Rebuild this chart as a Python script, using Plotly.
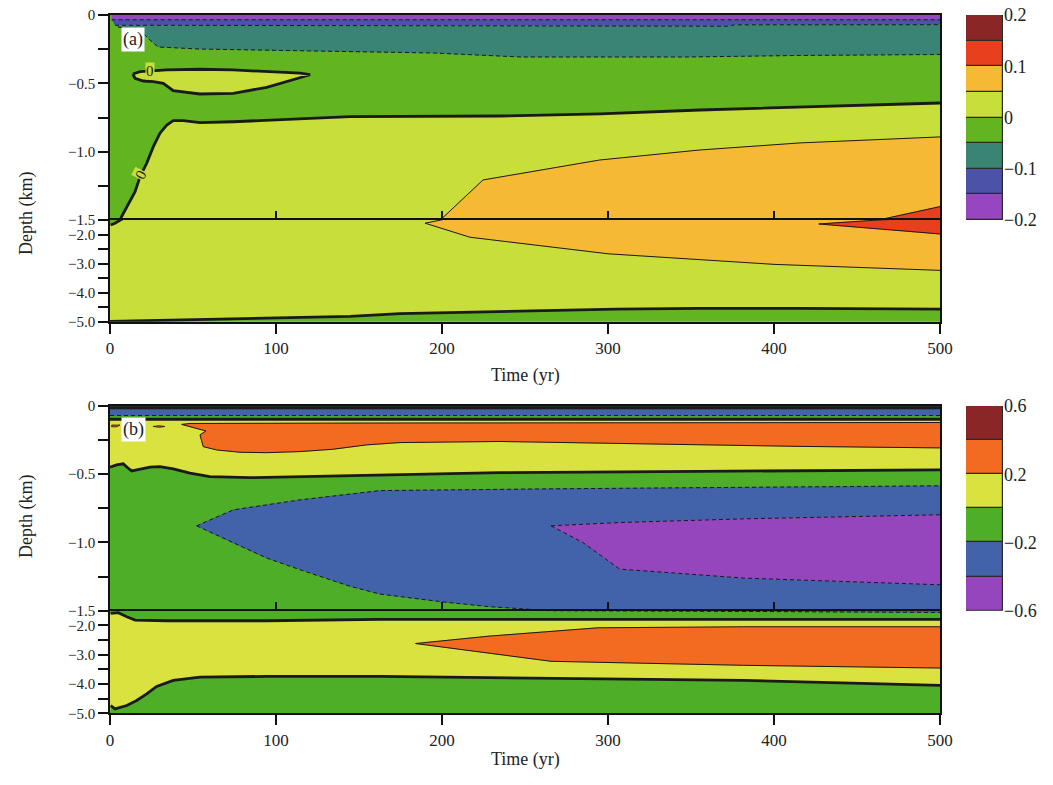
import plotly.graph_objects as go

# ---------------- shared axis data ----------------
T_RANGE = [0, 500]
X_TICKS = [0, 100, 200, 300, 400, 500]
X_TEXT = ["0", "100", "200", "300", "400", "500"]
UP_TICKS = [0, -0.25, -0.5, -0.75, -1.0, -1.25, -1.5]
UP_TEXT = ["0", "", "−0.5", "", "−1.0", "", "−1.5"]
LO_TICKS = [-2.0, -2.5, -3.0, -3.5, -4.0, -4.5, -5.0]
LO_TEXT = ["−2.0", "", "−3.0", "", "−4.0", "", "−5.0"]
D_UPPER = [-1.5, 0]
D_LOWER = [-5.0, -1.5]

# ---------------- panel (a) ----------------
A_LEVELS = [-0.2, -0.15, -0.1, -0.05, 0, 0.05, 0.1, 0.15, 0.2]
A_COLORS = ["#9646BE", "#4B52A8", "#3A8474", "#62B521", "#C8DE3A", "#F5B933", "#E8401F", "#8B2626"]
A_CB_TICKS = [-0.2, -0.1, 0, 0.1, 0.2]
A_CB_TEXT = ["−0.2", "−0.1", "0", "0.1", "0.2"]

A_ZERO_T = [0.4, 3.0, 7.0, 11.0, 15.1, 18.1, 22.1, 26.1, 30.1, 34.2, 38.1, 44.2, 54.2, 74.1, 144.6, 234.9, 295.2, 355.4, 415.7, 500]
A_ZERO_D = [-1.67, -1.614, -1.475, -1.39, -1.293, -1.183, -1.085, -0.963, -0.865, -0.805, -0.773, -0.773, -0.788, -0.781, -0.744, -0.739, -0.724, -0.695, -0.673, -0.644]
A_LOOP_T = [13.7, 18.1, 34.2, 54.2, 74.1, 94.4, 114.5, 120.5, 110.2, 94.4, 74.3, 54.2, 38.1, 32.1, 26.1, 20.1, 15.1, 13.7]
A_LOOP_D = [-0.432, -0.415, -0.402, -0.397, -0.402, -0.415, -0.426, -0.437, -0.475, -0.529, -0.573, -0.578, -0.554, -0.5, -0.488, -0.483, -0.463, -0.432]
A_LABEL_T = [24.1, 18.5]
A_LABEL_D = [-0.41, -1.17]
A_LABEL_ANGLE = [0, -62]
A_PURP_T = [1, 500]
A_PURP_D = [-0.035, -0.035]
A_BLUE_T = [3, 372, 376, 500]
A_BLUE_D = [-0.075, -0.082, -0.072, -0.071]
A_TEAL_T = [4.8, 18, 24, 29, 54, 114, 195, 247, 349, 416, 500]
A_TEAL_D = [-0.088, -0.11, -0.183, -0.234, -0.249, -0.263, -0.278, -0.307, -0.307, -0.296, -0.289]
A_OR_UP_T = [189.8, 199, 224.7, 295, 355, 415.7, 500]
A_OR_UP_D = [-1.61, -1.5, -1.207, -1.061, -0.988, -0.936, -0.892]
A_OR_LO_T = [189.8, 216.9, 300, 400, 500]
A_OR_LO_D = [-1.61, -2.094, -2.663, -3.027, -3.233]
A_RED_UP_T = [427, 463, 500]
A_RED_UP_D = [-1.637, -1.5, -1.402]
A_RED_LO_T = [427, 500]
A_RED_LO_D = [-1.637, -1.98]
A_BOT_T = [0, 54, 144.6, 174.7, 235, 305, 355, 415.7, 500]
A_BOT_D = [-4.99, -4.93, -4.82, -4.72, -4.65, -4.57, -4.54, -4.54, -4.57]

# ---------------- panel (b) ----------------
B_LEVELS = [-0.6, -0.4, -0.2, 0, 0.2, 0.4, 0.6]
B_COLORS = ["#9646BC", "#4262AA", "#4EAE27", "#DAE23F", "#F26B21", "#8B2626"]
B_CB_TICKS = [-0.6, -0.2, 0.2, 0.6]
B_CB_TEXT = ["−0.6", "−0.2", "0.2", "0.6"]

B_TOP_T = [0, 500]
B_TOP_EDGE_D = [-0.012, -0.012]
B_TOP_BLUE_D = [-0.07, -0.07]
B_TOP_ZERO_D = [-0.097, -0.097]
B_OR_UP_T = [43.2, 48.2, 150, 300, 500]
B_OR_UP_D = [-0.135, -0.128, -0.125, -0.122, -0.121]
B_OR_LO_T = [43.2, 57.8, 54.2, 56.2, 64.3, 78.3, 94.4, 114.5, 134.3, 154.6, 174.7, 234.9, 325.3, 415.7, 500]
B_OR_LO_D = [-0.135, -0.183, -0.212, -0.298, -0.322, -0.339, -0.342, -0.334, -0.317, -0.285, -0.268, -0.260, -0.278, -0.296, -0.307]
B_BLOB1_T = [1, 6, 4, 1]
B_BLOB1_D = [-0.14, -0.14, -0.152, -0.152]
B_BLOB2_T = [26, 29.5, 33, 29.5]
B_BLOB2_D = [-0.15, -0.145, -0.15, -0.156]
B_ZERO_T = [0, 1.0, 4.0, 8.0, 11.0, 13.1, 16.1, 24.1, 30.1, 38.1, 48.2, 60.2, 84.3, 114.5, 154.6, 194.6, 234.9, 355.4, 500]
B_ZERO_D = [-0.446, -0.444, -0.432, -0.424, -0.456, -0.476, -0.468, -0.448, -0.444, -0.461, -0.492, -0.517, -0.525, -0.517, -0.505, -0.497, -0.488, -0.479, -0.468]
B_BLUE_UP_T = [52.2, 74.3, 114.5, 144.6, 162.7, 265.7, 381.7, 500]
B_BLUE_UP_D = [-0.878, -0.761, -0.688, -0.644, -0.620, -0.607, -0.595, -0.585]
B_BLUE_LO_T = [52.2, 74.3, 94.4, 114.5, 144.6, 162.7, 199.4, 228.3, 254.6, 265.7, 400, 500]
B_BLUE_LO_D = [-0.878, -1.004, -1.114, -1.2, -1.321, -1.378, -1.434, -1.47, -1.49, -1.5, -1.53, -1.56]
B_PU_UP_T = [265.7, 307, 381.7, 500]
B_PU_UP_D = [-0.878, -0.854, -0.827, -0.797]
B_PU_LO_T = [265.7, 285.3, 307, 381.7, 500]
B_PU_LO_D = [-0.878, -1.004, -1.195, -1.261, -1.31]
B_ZERO2_T = [0.4, 5, 10.1, 15.1, 34.2, 94.4, 162.7, 500]
B_ZERO2_D = [-1.59, -1.569, -1.706, -1.819, -1.843, -1.843, -1.795, -1.795]
B_OR2_UP_T = [184.1, 228.3, 294, 381.7, 500]
B_OR2_UP_D = [-2.62, -2.368, -2.083, -2.049, -2.049]
B_OR2_LO_T = [184.1, 265.7, 381.7, 500]
B_OR2_LO_D = [-2.62, -3.226, -3.363, -3.456]
B_BOT_T = [0.4, 3, 10.1, 16.1, 22.1, 28.1, 38.1, 54.2, 94.4, 162.7, 381.7, 425, 500]
B_BOT_D = [-4.736, -4.85, -4.736, -4.564, -4.335, -4.084, -3.878, -3.765, -3.741, -3.741, -3.878, -3.936, -4.05]

# ---------------- figure ----------------
W, H = 1053, 785
FONT = "Liberation Serif, Times New Roman, serif"
TXT = "#222222"
fig = go.Figure()


def px_x(p):
    return p / W


def px_y(p):
    return 1 - p / H


PANELS = {
    "a": (("x", "y"), ("x2", "y2")),
    "b": (("x3", "y3"), ("x4", "y4")),
}


def add_fill(panel, t, d, color):
    for xa, ya in PANELS[panel]:
        fig.add_trace(go.Scatter(x=t, y=d, xaxis=xa, yaxis=ya, mode="lines",
                                 fill="toself", fillcolor=color,
                                 line=dict(width=0.6, color=color),
                                 hoverinfo="skip", showlegend=False))


def add_line(panel, t, d, width=1.0, dash="solid", color="#1a1a1a"):
    for xa, ya in PANELS[panel]:
        fig.add_trace(go.Scatter(x=t, y=d, xaxis=xa, yaxis=ya, mode="lines",
                                 line=dict(width=width, color=color, dash=dash),
                                 hoverinfo="skip", showlegend=False))


def band(t_up, d_up, t_lo, d_lo):
    return list(t_up) + list(t_lo)[::-1], list(d_up) + list(d_lo)[::-1]


T0, T1 = T_RANGE
DASH = "4px,3px"

# ---- panel (a) fills ----
add_fill("a", [T0, T1, T1, T0], [0, 0, -5, -5], A_COLORS[4])
t, d = band([T0, T1], [0, 0], A_ZERO_T, A_ZERO_D)
add_fill("a", t + [T0], d + [A_ZERO_D[0]], A_COLORS[3])
t, d = band([A_PURP_T[0], T1], [0, 0], A_PURP_T, A_PURP_D)
add_fill("a", t, d, A_COLORS[0])
t, d = band(A_PURP_T, A_PURP_D, A_BLUE_T, A_BLUE_D)
add_fill("a", t, d, A_COLORS[1])
t, d = band(A_BLUE_T, A_BLUE_D, A_TEAL_T, A_TEAL_D)
add_fill("a", t, d, A_COLORS[2])
add_fill("a", A_LOOP_T, A_LOOP_D, A_COLORS[4])
t, d = band(A_OR_UP_T, A_OR_UP_D, A_OR_LO_T, A_OR_LO_D)
add_fill("a", t, d, A_COLORS[5])
t, d = band(A_RED_UP_T, A_RED_UP_D, A_RED_LO_T, A_RED_LO_D)
add_fill("a", t, d, A_COLORS[6])
t, d = list(A_BOT_T) + [T1, T0], list(A_BOT_D) + [-5, -5]
add_fill("a", t, d, A_COLORS[3])

# ---- panel (a) lines ----
add_line("a", A_PURP_T, A_PURP_D, 1, DASH)
add_line("a", A_BLUE_T, A_BLUE_D, 1, DASH)
add_line("a", A_TEAL_T, A_TEAL_D, 1, DASH)
add_line("a", A_ZERO_T, A_ZERO_D, 2.8)
add_line("a", A_LOOP_T, A_LOOP_D, 2.8)
add_line("a", A_OR_UP_T, A_OR_UP_D, 1)
add_line("a", A_OR_LO_T, A_OR_LO_D, 1)
add_line("a", A_RED_UP_T, A_RED_UP_D, 1)
add_line("a", A_RED_LO_T, A_RED_LO_D, 1)
add_line("a", A_BOT_T, A_BOT_D, 2.8)

# ---- panel (b) fills ----
add_fill("b", [T0, T1, T1, T0], [0, 0, -5, -5], B_COLORS[3])
t, d = band(B_ZERO_T, B_ZERO_D, B_ZERO2_T, B_ZERO2_D)
add_fill("b", t + [T0], d + [B_ZERO2_D[0]], B_COLORS[2])
t, d = band(B_TOP_T, [0, 0], B_TOP_T, B_TOP_ZERO_D)
add_fill("b", t, d, B_COLORS[2])
t, d = band(B_TOP_T, [0, 0], B_TOP_T, B_TOP_BLUE_D)
add_fill("b", t, d, B_COLORS[1])
t, d = band(B_OR_UP_T, B_OR_UP_D, B_OR_LO_T, B_OR_LO_D)
add_fill("b", t, d, B_COLORS[4])
add_fill("b", B_BLOB1_T, B_BLOB1_D, B_COLORS[4])
add_fill("b", B_BLOB2_T, B_BLOB2_D, B_COLORS[4])
t, d = band(B_BLUE_UP_T, B_BLUE_UP_D, B_BLUE_LO_T, B_BLUE_LO_D)
add_fill("b", t, d, B_COLORS[1])
t, d = band(B_PU_UP_T, B_PU_UP_D, B_PU_LO_T, B_PU_LO_D)
add_fill("b", t, d, B_COLORS[0])
t, d = band(B_OR2_UP_T, B_OR2_UP_D, B_OR2_LO_T, B_OR2_LO_D)
add_fill("b", t, d, B_COLORS[4])
t, d = list(B_BOT_T) + [T1, T0], list(B_BOT_D) + [-5, -5]
add_fill("b", t, d, B_COLORS[2])

# ---- panel (b) lines ----
add_line("b", B_TOP_T, B_TOP_EDGE_D, 3)
add_line("b", B_TOP_T, B_TOP_BLUE_D, 1, DASH)
add_line("b", B_TOP_T, B_TOP_ZERO_D, 2.8)
add_line("b", B_OR_UP_T, B_OR_UP_D, 1)
add_line("b", B_OR_LO_T, B_OR_LO_D, 1)
add_line("b", B_BLOB1_T + B_BLOB1_T[:1], B_BLOB1_D + B_BLOB1_D[:1], 0.8)
add_line("b", B_BLOB2_T + B_BLOB2_T[:1], B_BLOB2_D + B_BLOB2_D[:1], 0.8)
add_line("b", B_ZERO_T, B_ZERO_D, 2.8)
add_line("b", B_BLUE_UP_T, B_BLUE_UP_D, 1, DASH)
add_line("b", B_BLUE_LO_T, B_BLUE_LO_D, 1, DASH)
add_line("b", B_PU_UP_T, B_PU_UP_D, 1, DASH)
add_line("b", B_PU_LO_T, B_PU_LO_D, 1, DASH)
add_line("b", B_ZERO2_T, B_ZERO2_D, 2.8)
add_line("b", B_OR2_UP_T, B_OR2_UP_D, 1)
add_line("b", B_OR2_LO_T, B_OR2_LO_D, 1)
add_line("b", B_BOT_T, B_BOT_D, 2.8)


# ---- colour bars (stacked boxes) ----
def add_cbar(levels, colors, xa, ya):
    for i, c in enumerate(colors):
        fig.add_trace(go.Bar(x=[0], y=[levels[i + 1] - levels[i]], base=[levels[i]],
                             width=1, marker=dict(color=c, line=dict(color="#2a2a2a", width=1.2)),
                             xaxis=xa, yaxis=ya, hoverinfo="skip", showlegend=False))


add_cbar(A_LEVELS, A_COLORS, "x5", "y5")
add_cbar(B_LEVELS, B_COLORS, "x6", "y6")

# ---- axes ----
XD = [px_x(110), px_x(940)]
common = dict(showgrid=False, zeroline=False, showline=True, linecolor="#111111",
              linewidth=1.6, mirror=True, tickcolor="#111111", tickwidth=1.5,
              automargin=False)
xfont = dict(family=FONT, size=17, color=TXT)
yfont = dict(family=FONT, size=15, color=TXT)


def xup(anchor):
    return dict(domain=XD, range=T_RANGE, anchor=anchor, tickmode="array", tickvals=X_TICKS,
                ticks="inside", ticklen=9, showticklabels=False, tickfont=xfont, **common)


def xlo(anchor):
    return dict(domain=XD, range=T_RANGE, anchor=anchor, tickmode="array", tickvals=X_TICKS,
                ticktext=X_TEXT, ticks="outside", ticklen=10, tickfont=xfont, **common)


def yup(anchor, dom):
    return dict(domain=dom, range=D_UPPER, anchor=anchor, tickmode="array", tickvals=UP_TICKS,
                ticktext=UP_TEXT, ticks="outside", ticklen=10, tickfont=yfont, **common)


def ylo(anchor, dom):
    return dict(domain=dom, range=D_LOWER, anchor=anchor, tickmode="array", tickvals=LO_TICKS,
                ticktext=LO_TEXT, ticks="outside", ticklen=10, tickfont=yfont, **common)


A_UP = [px_y(220), px_y(15)]
A_LO = [px_y(321.7), px_y(220)]
B_UP = [px_y(610.7), px_y(406)]
B_LO = [px_y(713.3), px_y(610.7)]
CB_X = [px_x(966), px_x(1003)]


def cbx(anchor):
    return dict(domain=CB_X, range=[-0.5, 0.5], anchor=anchor, visible=False)


def cby(anchor, dom, levels, tv, tt):
    return dict(domain=dom, range=[levels[0], levels[-1]], anchor=anchor, side="right",
                showgrid=False, zeroline=False, showline=False, ticks="", tickmode="array",
                tickvals=tv, ticktext=tt, automargin=False,
                tickfont=dict(family=FONT, size=18, color=TXT))


fig.update_layout(
    width=W, height=H, autosize=False, margin=dict(l=0, r=0, t=0, b=0, pad=0, autoexpand=False),
    paper_bgcolor="white", plot_bgcolor="white", barmode="overlay", bargap=0,
    showlegend=False,
    xaxis=xup("y"), yaxis=yup("x", A_UP),
    xaxis2=xlo("y2"), yaxis2=ylo("x2", A_LO),
    xaxis3=xup("y3"), yaxis3=yup("x3", B_UP),
    xaxis4=xlo("y4"), yaxis4=ylo("x4", B_LO),
    xaxis5=cbx("y5"), yaxis5=cby("x5", A_UP, A_LEVELS, A_CB_TICKS, A_CB_TEXT),
    xaxis6=cbx("y6"), yaxis6=cby("x6", B_UP, B_LEVELS, B_CB_TICKS, B_CB_TEXT),
)

lab = dict(family=FONT, size=18, color=TXT)
annotations = [
    dict(text="Time (yr)", x=px_x(525), y=px_y(375), xref="paper", yref="paper",
         showarrow=False, font=lab),
    dict(text="Time (yr)", x=px_x(525), y=px_y(772), xref="paper", yref="paper",
         showarrow=False, font=lab),
    dict(text="Depth (km)", x=px_x(14), y=px_y(170), xref="paper", yref="paper",
         showarrow=False, font=lab, textangle=-90),
    dict(text="Depth (km)", x=px_x(14), y=px_y(560), xref="paper", yref="paper",
         showarrow=False, font=lab, textangle=-90),
    dict(text="(a)", x=px_x(121), y=px_y(27), xref="paper", yref="paper",
         xanchor="left", yanchor="top", showarrow=False, bgcolor="white", borderpad=1,
         font=dict(family=FONT, size=18, color=TXT)),
    dict(text="(b)", x=px_x(121), y=px_y(417), xref="paper", yref="paper",
         xanchor="left", yanchor="top", showarrow=False, bgcolor="white", borderpad=1,
         font=dict(family=FONT, size=18, color=TXT)),
]
for lt, ld, ang in zip(A_LABEL_T, A_LABEL_D, A_LABEL_ANGLE):
    annotations.append(dict(text="0", x=lt, y=ld, xref="x", yref="y", showarrow=False,
                            textangle=ang, bgcolor=A_COLORS[4], borderpad=0,
                            font=dict(family=FONT, size=15, color=TXT)))
fig.update_layout(annotations=annotations)

fig.write_html(
    "out.html",
    config={"responsive": False, "displayModeBar": False},
    post_script="document.body.style.margin='0';document.body.style.padding='0';"
                "document.body.style.overflow='hidden';",
)
